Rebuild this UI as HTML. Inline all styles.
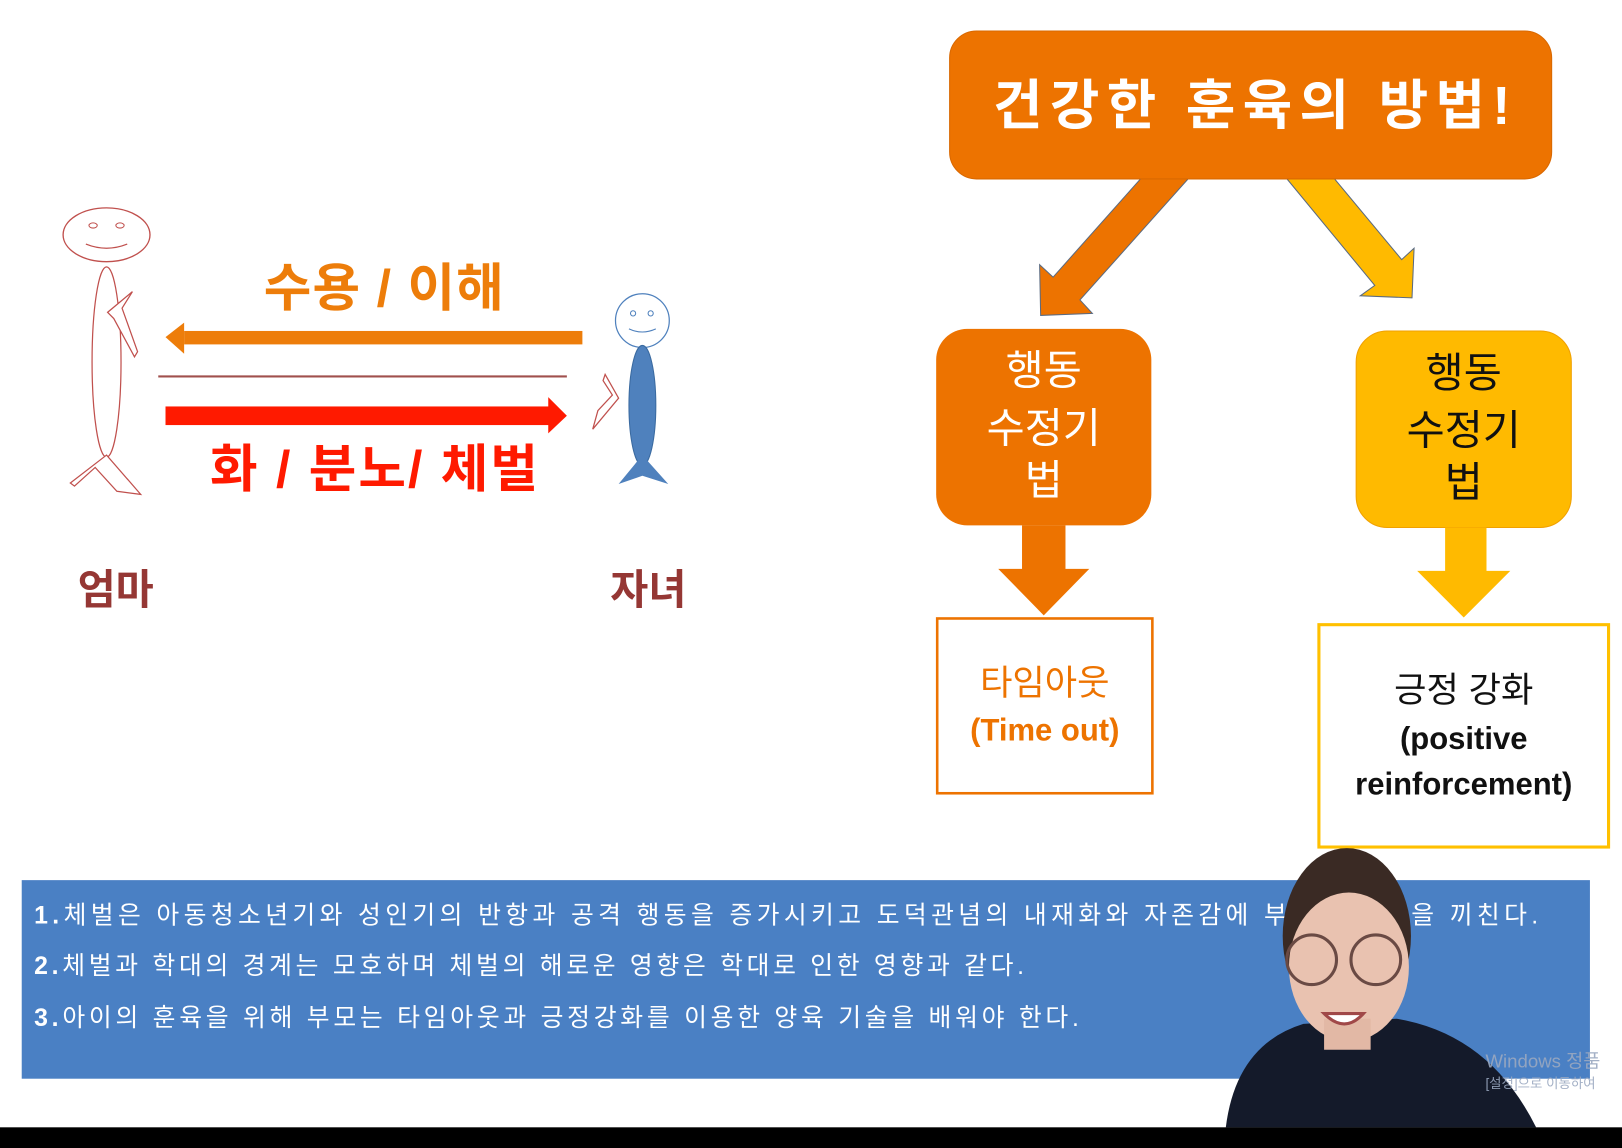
<!DOCTYPE html>
<html><head><meta charset="utf-8"><style>
html,body{margin:0;padding:0;background:#fff;width:1622px;height:1148px;overflow:hidden}
svg{display:block}
text{font-family:"Liberation Sans","Noto Sans CJK KR","NanumGothic",sans-serif}
</style></head><body>
<svg width="1622" height="1148" viewBox="0 0 1568 1110" preserveAspectRatio="none" xmlns="http://www.w3.org/2000/svg">
<rect width="1568" height="1110" fill="#fff"/>
<!-- mom -->
<ellipse cx="103" cy="227" rx="42" ry="26" fill="none" stroke="#c0504d" stroke-width="1.3"/>
<ellipse cx="90" cy="218" rx="4" ry="2.5" fill="none" stroke="#c0504d"/>
<ellipse cx="116" cy="218" rx="4" ry="2.5" fill="none" stroke="#c0504d"/>
<path d="M83 236 Q103 244 123 236" fill="none" stroke="#c0504d" stroke-width="1.2"/>
<ellipse cx="103" cy="350" rx="14" ry="92" fill="none" stroke="#c0504d" stroke-width="1.2"/>
<polygon points="128,282 118,298 133,340 130,345 110,308 104,302" fill="#fff" stroke="#c0504d" stroke-width="1.2"/>
<polygon points="103,440 68,467 72,470 92,452 113,475 136,478" fill="#fff" stroke="#c0504d" stroke-width="1.2"/>
<!-- child -->
<circle cx="621" cy="310" r="26" fill="none" stroke="#4f81bd" stroke-width="1.2"/>
<circle cx="612" cy="303" r="2.5" fill="none" stroke="#4f81bd"/>
<circle cx="629" cy="303" r="2.5" fill="none" stroke="#4f81bd"/>
<path d="M608 318 Q621 324 634 318" fill="none" stroke="#4f81bd"/>
<ellipse cx="621" cy="392" rx="13" ry="58" fill="#4f81bd" stroke="#3a6aa0"/>
<polygon points="585,362 598,385 573,415 578,397 592,382 583,368" fill="#fff" stroke="#c0504d" stroke-width="1.2"/>
<polygon points="621,440 598,468 621,460 646,468" fill="#4f81bd"/>
<!-- arrows left -->
<rect x="178" y="320" width="385" height="13" fill="#ed7d0a"/>
<polygon points="160,326 178,312 178,342" fill="#ed7d0a"/>
<line x1="153" y1="364" x2="548" y2="364" stroke="#a0504d" stroke-width="2"/>
<rect x="160" y="393" width="372" height="18" fill="#ff1a00"/>
<polygon points="548,402 530,384 530,419" fill="#ff1a00"/>
<text x="255" y="296" font-size="50" font-weight="bold" fill="#ed7d0a" textLength="232">수용 / 이해</text>
<text x="203" y="471" font-size="50" font-weight="bold" fill="#ff1a00" textLength="317">화 / 분노/ 체벌</text>
<text x="75" y="584" font-size="40" font-weight="bold" fill="#953734">엄마</text>
<text x="590" y="584" font-size="40" font-weight="bold" fill="#953734">자녀</text>
<!-- diag arrows -->
<polygon points="1107,168 1153,168 1044,290 1056,303 1006,305 1005,256 1018,268" fill="#ed7300" stroke="#5a6a80" stroke-width="1"/>
<polygon points="1240,168 1286,168 1355,251 1367,240 1365,288 1315,286 1329,276" fill="#ffba00" stroke="#5a6a80" stroke-width="1"/>
<!-- title -->
<rect x="918" y="30" width="582" height="143" rx="26" fill="#ed7300" stroke="#d96800"/>
<text x="960" y="120" font-size="52" fill="#fff" textLength="500" font-weight="bold">건강한 훈육의 방법!</text>
<!-- boxes -->
<rect x="905" y="318" width="208" height="190" rx="30" fill="#ed7300"/>
<text font-size="40" fill="#fff" text-anchor="middle"><tspan x="1009" y="372">행동</tspan><tspan x="1009" y="428">수정기</tspan><tspan x="1009" y="478">법</tspan></text>
<rect x="1311" y="320" width="208" height="190" rx="30" fill="#ffba00" stroke="#f0a000"/>
<text font-size="40" fill="#111" text-anchor="middle"><tspan x="1415" y="374">행동</tspan><tspan x="1415" y="430">수정기</tspan><tspan x="1415" y="480">법</tspan></text>
<polygon points="988,508 1030,508 1030,550 1053,550 1009,595 965,550 988,550" fill="#ed7300"/>
<polygon points="1397,510 1437,510 1437,552 1460,552 1415,597 1370,552 1397,552" fill="#ffba00"/>
<rect x="906" y="598" width="208" height="169" fill="#fff" stroke="#ed7300" stroke-width="2.5"/>
<text x="1010" y="672" font-size="34" fill="#ed7300" text-anchor="middle">타임아웃</text>
<text x="1010" y="716" font-size="30" font-weight="bold" fill="#ed7300" text-anchor="middle">(Time out)</text>
<rect x="1275" y="604" width="280" height="215" fill="#fff" stroke="#ffc000" stroke-width="3"/>
<text x="1415" y="679" font-size="34" fill="#111" text-anchor="middle">긍정 강화</text>
<text x="1415" y="724" font-size="30" font-weight="bold" fill="#111" text-anchor="middle">(positive</text>
<text x="1415" y="768" font-size="30" font-weight="bold" fill="#111" text-anchor="middle">reinforcement)</text>
<!-- blue -->
<rect x="21" y="851" width="1516" height="192" fill="#4a80c4"/>
<g font-size="24" fill="#fff">
<text x="33" y="893" textLength="1454"><tspan font-weight="bold">1.</tspan>체벌은 아동청소년기와 성인기의 반항과 공격 행동을 증가시키고 도덕관념의 내재화와 자존감에 부정적 영향을 끼친다.</text>
<text x="33" y="942" textLength="957"><tspan font-weight="bold">2.</tspan>체벌과 학대의 경계는 모호하며 체벌의 해로운 영향은 학대로 인한 영향과 같다.</text>
<text x="33" y="992" textLength="1010"><tspan font-weight="bold">3.</tspan>아이의 훈육을 위해 부모는 타임아웃과 긍정강화를 이용한 양육 기술을 배워야 한다.</text>
</g>
<!-- person -->
<path d="M1185 1090 Q1195 1010 1260 990 L1350 985 Q1440 1000 1485 1090 Z" fill="#141a2a"/>
<ellipse cx="1302" cy="905" rx="62" ry="85" fill="#3a2a24"/>
<ellipse cx="1304" cy="935" rx="58" ry="72" fill="#e9c2b0"/>
<rect x="1280" y="985" width="45" height="30" fill="#e2b8a5"/>
<circle cx="1268" cy="928" r="24" fill="none" stroke="#6a4a44" stroke-width="3"/>
<circle cx="1330" cy="928" r="24" fill="none" stroke="#6a4a44" stroke-width="3"/>
<path d="M1280 980 Q1300 1000 1318 980 Z" fill="#fff" stroke="#a04848" stroke-width="3"/>
<text x="1436" y="1032" font-size="18" fill="#9aa8c0" opacity="0.9">Windows 정품</text>
<text x="1436" y="1052" font-size="13" fill="#9aa8c0" opacity="0.9">[설정]으로 이동하여</text>
<rect x="0" y="1090" width="1568" height="20" fill="#000"/>
</svg>
</body></html>
